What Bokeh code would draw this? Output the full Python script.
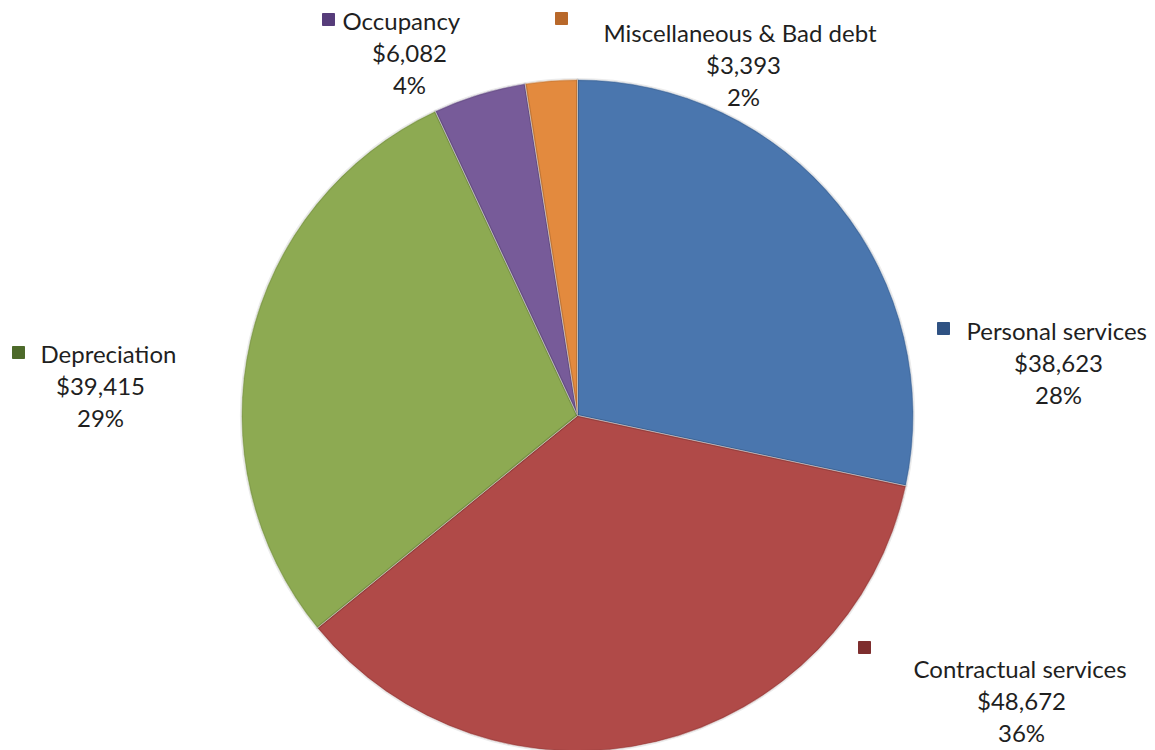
import math
from bokeh.plotting import figure
from bokeh.models import Range1d, ColumnDataSource
from bokeh.core.properties import value
from bokeh.embed import file_html
from bokeh.resources import INLINE

# ---- data ----
categories = ["Personal services", "Contractual services", "Depreciation", "Occupancy", "Miscellaneous & Bad debt"]
amounts = [38623, 48672, 39415, 6082, 3393]
colors = ["#4A76AE", "#B04A48", "#8DAA52", "#775B99", "#E38A3E"]
marker_colors = ["#2F5283", "#7E2E2E", "#4D6A2A", "#563C7A", "#B8682A"]

W, H = 1155, 750
CX, CY, R = 577, 415, 336  # pixel layout of the pie

def Y(py):
    return H - py

total = float(sum(amounts))
starts, ends = [], []
cum = 0.0
for a in amounts:
    starts.append(math.pi / 2 - 2 * math.pi * cum / total)
    cum += a
    ends.append(math.pi / 2 - 2 * math.pi * cum / total)

p = figure(width=W, height=H, output_backend="svg", toolbar_location=None,
           x_range=Range1d(0, W), y_range=Range1d(0, H), min_border=0)
p.axis.visible = False
p.grid.visible = False
p.outline_line_color = None
p.background_fill_color = "white"
p.border_fill_color = "white"

src = ColumnDataSource(dict(x=[CX] * len(amounts), y=[Y(CY)] * len(amounts),
                            start=starts, end=ends, color=colors))
p.wedge(x="x", y="y", radius=R, start_angle="start", end_angle="end",
        direction="clock", fill_color="color", line_color="white",
        line_alpha=0.5, line_width=1, source=src)
# subtle bevel along the rim
p.wedge(x="x", y="y", radius=R, start_angle="start", end_angle="end",
        direction="clock", fill_color=None, line_color="black",
        line_alpha=0.08, line_width=3, source=src)

# ---- labels (layout: marker position, text start x, text block center x, first line y) ----
layout = {
    "Personal services": dict(mx=943, my=328, tx=966, ty=330, cx=1058),
    "Contractual services": dict(mx=864, my=647, tx=913, ty=668, cx=1021),
    "Depreciation": dict(mx=18, my=352, tx=40, ty=353, cx=100),
    "Occupancy": dict(mx=328, my=19, tx=342, ty=20, cx=409),
    "Miscellaneous & Bad debt": dict(mx=561, my=18, tx=603, ty=32, cx=743),
}

font = value("Lato")
fs = "24px"
LS = 32
for cat, amt, mc in zip(categories, amounts, marker_colors):
    L = layout[cat]
    pct = "%d%%" % round(amt / total * 100)
    p.scatter([L["mx"]], [Y(L["my"])], marker="square", size=12,
              fill_color=mc, line_color=mc)
    p.text([L["tx"]], [Y(L["ty"])], text=[cat], text_font=font,
           text_font_size=fs, text_color="#1f1f1f", text_align="left",
           text_baseline="middle")
    p.text([L["cx"], L["cx"]], [Y(L["ty"] + LS), Y(L["ty"] + 2 * LS)],
           text=["${:,}".format(amt), pct], text_font=font,
           text_font_size=fs, text_color="#1f1f1f", text_align="center",
           text_baseline="middle")

open("out.html", "w").write(file_html(p, INLINE))
